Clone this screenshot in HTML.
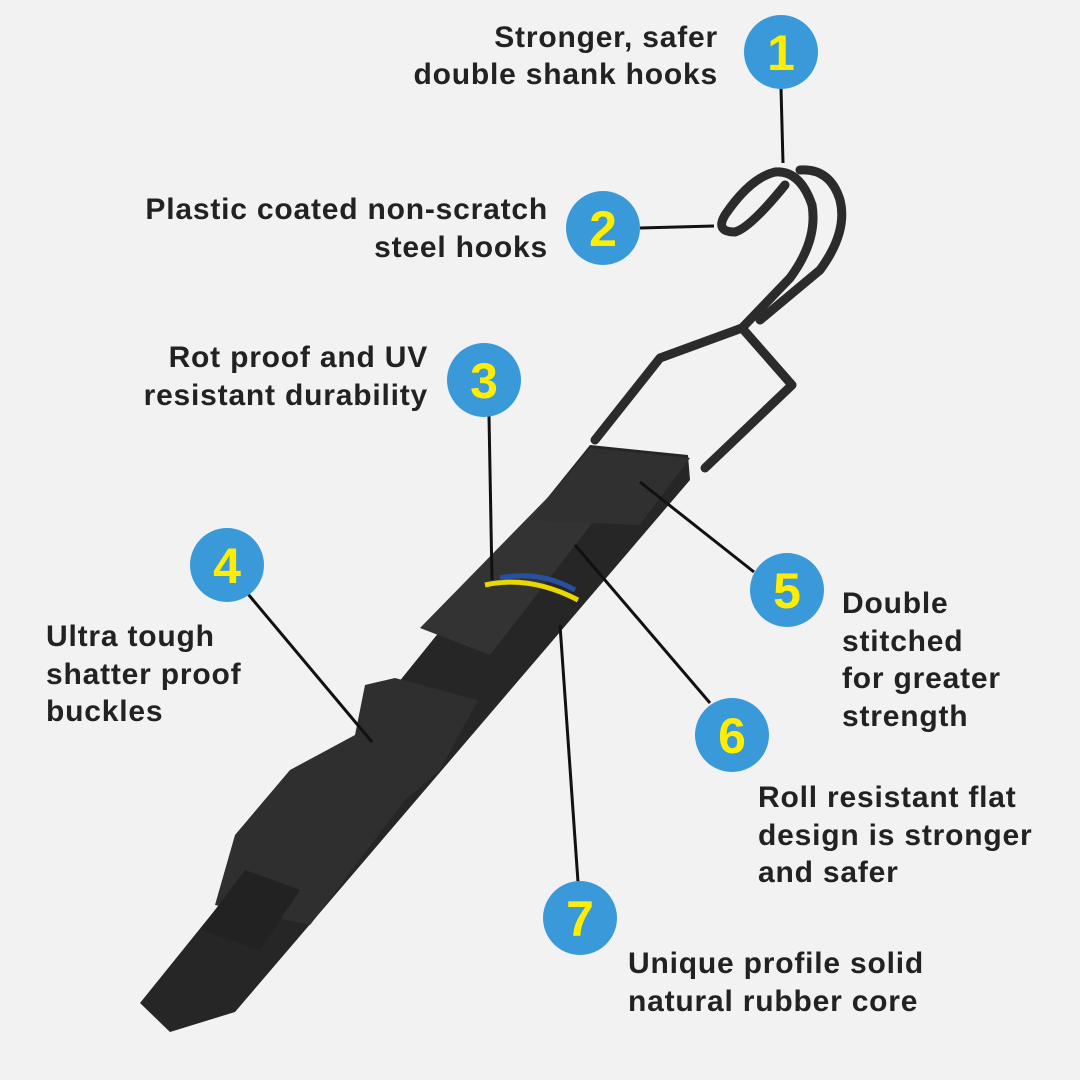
<!DOCTYPE html>
<html><head><meta charset="utf-8"><style>
html,body{margin:0;padding:0;background:#f2f2f2}
svg{display:block}
text{font-family:"Liberation Sans",sans-serif;font-weight:bold;font-size:30px;letter-spacing:0.8px;fill:#222}
.n{font-size:50px;fill:#ffee00;text-anchor:middle;letter-spacing:0}
</style></head><body>
<svg width="1080" height="1080" viewBox="0 0 1080 1080">
<rect width="1080" height="1080" fill="#f2f2f2"/>
<!-- hook -->
<g fill="none" stroke="#2b2b2b" stroke-width="9" stroke-linejoin="round" stroke-linecap="round">
<path d="M595,440 L660,358 L742,328 L792,385 L705,468"/>
<path d="M742,328 L790,278 Q818,240 812,205 Q800,170 775,172 Q750,178 725,215 Q715,232 735,232 Q750,228 785,185"/>
<path d="M760,320 L820,270 Q848,232 840,200 Q830,168 800,170"/>
</g>
<!-- strap -->
<polygon points="140,1003 590,445 688,455 690,480 235,1012 170,1032" fill="#262626"/>
<polygon points="420,628 555,490 610,500 490,655" fill="#333"/>
<polygon points="530,520 590,448 690,458 640,525" fill="#303030"/>
<polygon points="235,835 290,770 355,735 365,685 395,678 478,700 440,770 405,800 310,925 215,905" fill="#2f2f2f"/>
<polygon points="200,930 245,870 300,890 260,950" fill="#222"/>
<path d="M485,585 Q530,575 578,600" stroke="#e8d800" stroke-width="5" fill="none"/>
<path d="M500,578 Q540,570 575,590" stroke="#2850a0" stroke-width="5" fill="none"/>
<!-- leader lines -->
<g stroke="#111" stroke-width="3">
<line x1="781" y1="88" x2="783" y2="163"/>
<line x1="640" y1="228" x2="714" y2="226"/>
<line x1="489" y1="416" x2="492" y2="580"/>
<line x1="248" y1="594" x2="372" y2="742"/>
<line x1="754" y1="572" x2="640" y2="482"/>
<line x1="710" y1="703" x2="575" y2="545"/>
<line x1="578" y1="882" x2="560" y2="625"/>
</g>
<!-- circles -->
<g fill="#3a9ad9">
<circle cx="781" cy="52" r="37"/><circle cx="603" cy="228" r="37"/><circle cx="484" cy="380" r="37"/>
<circle cx="227" cy="565" r="37"/><circle cx="787" cy="590" r="37"/><circle cx="732" cy="735" r="37"/>
<circle cx="580" cy="918" r="37"/>
</g>
<text class="n" x="781" y="70">1</text><text class="n" x="603" y="246">2</text><text class="n" x="484" y="398">3</text>
<text class="n" x="227" y="583">4</text><text class="n" x="787" y="608">5</text><text class="n" x="732" y="753">6</text>
<text class="n" x="580" y="936">7</text>
<g text-anchor="end">
<text x="718" y="47">Stronger, safer</text><text x="718" y="84">double shank hooks</text>
<text x="548" y="219">Plastic coated non-scratch</text><text x="548" y="257">steel hooks</text>
<text x="428" y="367">Rot proof and UV</text><text x="428" y="405">resistant durability</text>
</g>
<text x="46" y="646">Ultra tough</text><text x="46" y="684">shatter proof</text><text x="46" y="721">buckles</text>
<text x="842" y="613">Double</text><text x="842" y="651">stitched</text><text x="842" y="688">for greater</text><text x="842" y="726">strength</text>
<text x="758" y="807">Roll resistant flat</text><text x="758" y="845">design is stronger</text><text x="758" y="882">and safer</text>
<text x="628" y="973">Unique profile solid</text><text x="628" y="1011">natural rubber core</text>
</svg>
</body></html>
